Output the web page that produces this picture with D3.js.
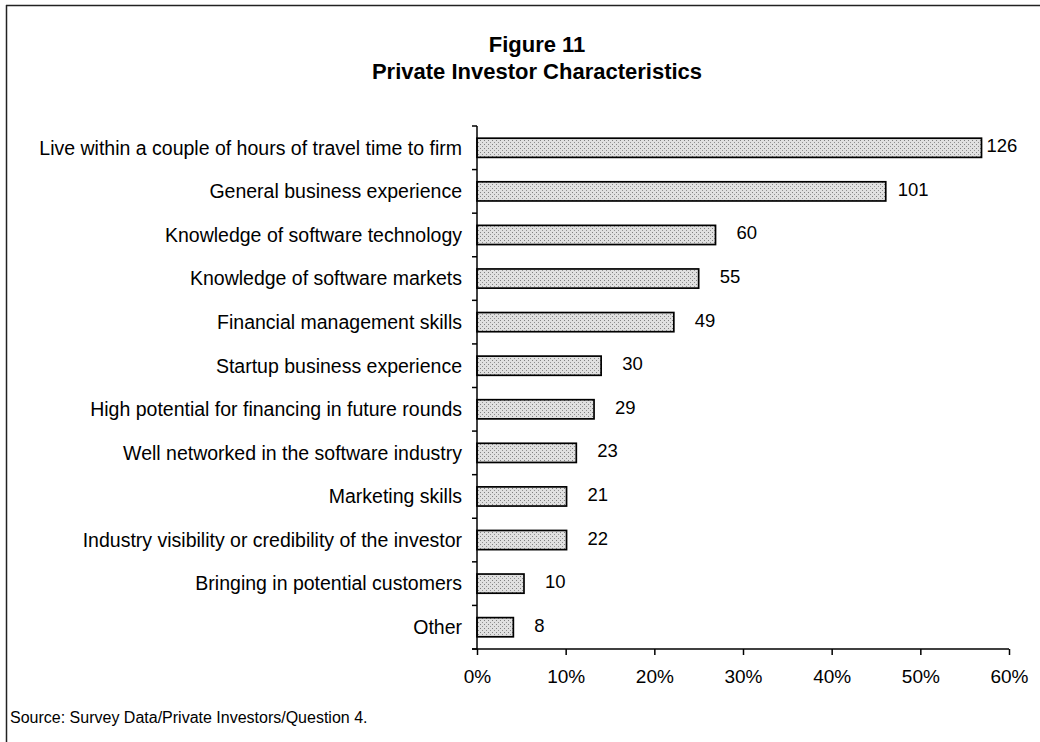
<!DOCTYPE html>
<html>
<head>
<meta charset="utf-8">
<script src="https://cdn.jsdelivr.net/npm/d3@7"></script>
<style>
  html, body { margin: 0; padding: 0; background: #fff; }
  svg { display: block; font-family: "Liberation Sans", Arial, sans-serif; }
</style>
</head>
<body>
<svg id="chart" width="1040" height="742"></svg>
<script>
const categories = [
  "Live within a couple of hours of travel time to firm",
  "General business experience",
  "Knowledge of software technology",
  "Knowledge of software markets",
  "Financial management skills",
  "Startup business experience",
  "High potential for financing in future rounds",
  "Well networked in the software industry",
  "Marketing skills",
  "Industry visibility or credibility of the investor",
  "Bringing in potential customers",
  "Other"
];
const percentValues = [56.9, 46.1, 26.9, 25.0, 22.2, 14.0, 13.2, 11.2, 10.1, 10.1, 5.3, 4.1];
const countLabels = ["126", "101", "60", "55", "49", "30", "29", "23", "21", "22", "10", "8"];
const tickValues = [0, 10, 20, 30, 40, 50, 60];
const tickLabels = ["0%", "10%", "20%", "30%", "40%", "50%", "60%"];
const titleLines = ["Figure 11", "Private Investor Characteristics"];
const sourceText = "Source: Survey Data/Private Investors/Question 4.";

const data = categories.map((c, i) => ({ cat: c, pct: percentValues[i], label: countLabels[i] }));

const svg = d3.select("#chart");

// pattern fill for bars
const defs = svg.append("defs");
const pat = defs.append("pattern")
  .attr("id", "stipple").attr("patternUnits", "userSpaceOnUse")
  .attr("width", 4).attr("height", 4);
pat.append("rect").attr("width", 4).attr("height", 4).attr("fill", "#e0e0e0");
pat.append("rect").attr("x", 0).attr("y", 0).attr("width", 1).attr("height", 1).attr("fill", "#808080");
pat.append("rect").attr("x", 2).attr("y", 2).attr("width", 1).attr("height", 1).attr("fill", "#909090");

// frame
svg.append("line").attr("x1", 6).attr("x2", 1040).attr("y1", 5.5).attr("y2", 5.5)
  .attr("stroke", "#222").attr("stroke-width", 1.5);
svg.append("line").attr("x1", 6.5).attr("x2", 6.5).attr("y1", 5).attr("y2", 742)
  .attr("stroke", "#222").attr("stroke-width", 1.5);

// titles
svg.selectAll("text.title").data(titleLines).enter().append("text")
  .attr("class", "title")
  .attr("x", 537).attr("y", (d, i) => 52 + i * 27)
  .attr("text-anchor", "middle")
  .attr("font-weight", "bold").attr("font-size", 22)
  .attr("fill", "#000")
  .text(d => d);

const x = d3.scaleLinear().domain([0, 60]).range([477, 1009]);
const y = d3.scaleBand().domain(categories).range([126, 649]).paddingInner(0.56).paddingOuter(0.28);
const step = y.step();

// bars
svg.selectAll("rect.bar").data(data).enter().append("rect")
  .attr("class", "bar")
  .attr("x", x(0))
  .attr("y", d => y(d.cat))
  .attr("width", d => x(d.pct) - x(0))
  .attr("height", y.bandwidth())
  .attr("fill", "url(#stipple)")
  .attr("stroke", "#000").attr("stroke-width", 1.7);

// value labels
svg.selectAll("text.val").data(data).enter().append("text")
  .attr("class", "val")
  .attr("x", d => {
    const xe = x(d.pct);
    const off = xe > 950 ? 5 : (xe > 850 ? 12 : 21);
    return xe + off;
  })
  .attr("y", d => y(d.cat) + y.bandwidth() / 2 - 2)
  .attr("dy", "0.35em")
  .attr("font-size", 18.5).attr("fill", "#000")
  .text(d => d.label);

// category labels
svg.selectAll("text.cat").data(data).enter().append("text")
  .attr("class", "cat")
  .attr("x", 462)
  .attr("y", d => y(d.cat) + y.bandwidth() / 2)
  .attr("dy", "0.35em")
  .attr("text-anchor", "end")
  .attr("font-size", 19.5).attr("fill", "#000")
  .text(d => d.cat);

// y axis line + ticks at band boundaries
const r0 = y.range()[0];
svg.append("line").attr("x1", x(0)).attr("x2", x(0)).attr("y1", r0).attr("y2", y.range()[1])
  .attr("stroke", "#000").attr("stroke-width", 1.5);
svg.selectAll("line.ytick").data(d3.range(categories.length + 1)).enter().append("line")
  .attr("class", "ytick")
  .attr("x1", x(0) - 5).attr("x2", x(0))
  .attr("y1", i => r0 + i * step).attr("y2", i => r0 + i * step)
  .attr("stroke", "#000").attr("stroke-width", 1.5);

// x axis
const xAxis = d3.axisBottom(x).tickValues(tickValues)
  .tickFormat((d, i) => tickLabels[i]).tickSize(6).tickPadding(15).tickSizeOuter(0);
const gx = svg.append("g").attr("transform", `translate(0,${y.range()[1]})`).call(xAxis);
gx.select(".domain").attr("stroke", "#000").attr("stroke-width", 1.5)
  .attr("d", `M${x(0) - 5},0H${x(60)}`);
gx.selectAll(".tick line").attr("stroke", "#000").attr("stroke-width", 1.5);
gx.selectAll(".tick text").attr("font-size", 19).attr("fill", "#000")
  .attr("font-family", "Liberation Sans, Arial, sans-serif");

// source
svg.append("text").attr("x", 10).attr("y", 723)
  .attr("font-size", 16).attr("fill", "#000")
  .text(sourceText);
</script>
</body>
</html>
